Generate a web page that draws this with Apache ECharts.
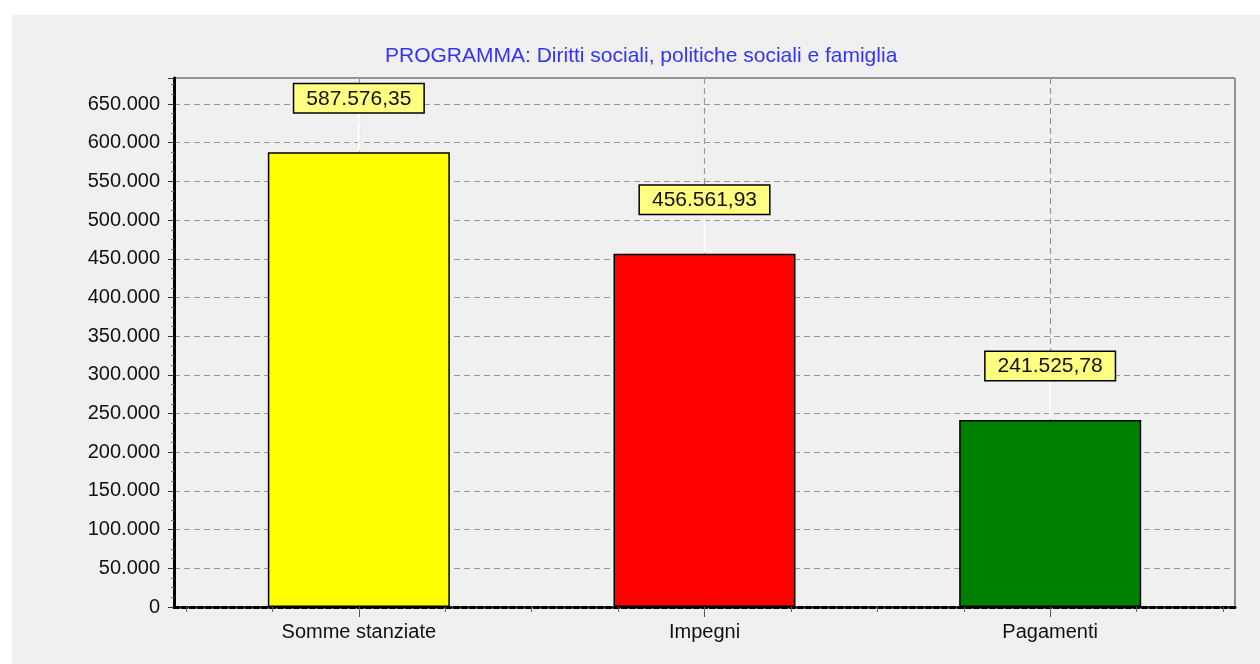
<!DOCTYPE html>
<html><head><meta charset="utf-8">
<script src="https://cdn.jsdelivr.net/npm/echarts@6/dist/echarts.min.js"></script>
<style>
html,body{margin:0;padding:0;background:#fff;overflow:hidden;}
#panel{position:absolute;left:12px;top:15px;width:1248px;height:649px;background:#f0f0f0;}
#chart{position:absolute;left:0;top:0;width:1260px;height:664px;}
</style></head><body>
<div id="panel"></div><div id="chart"></div>
<script>
const titleText = 'PROGRAMMA: Diritti sociali, politiche sociali e famiglia';
const categories = ['Somme stanziate', 'Impegni', 'Pagamenti'];
const values = [587576.35, 456561.93, 241525.78];
const barColors = ['#ffff00', '#ff0000', '#008000'];
const yMin = 0;
const yMax = 683600;
const yInterval = 50000;

function fmtIt(v, dec) {
  const neg = v < 0; v = Math.abs(v);
  const s = v.toFixed(dec);
  let parts = s.split('.');
  let int = parts[0].replace(/\B(?=(\d{3})+(?!\d))/g, '.');
  return (neg ? '-' : '') + int + (parts[1] ? ',' + parts[1] : '');
}

const FONT = "'Liberation Sans', Arial, sans-serif";
const dashed = { color: '#999', width: 1.2, type: [6, 4] };

const chart = echarts.init(document.getElementById('chart'), null, { renderer: 'canvas' });
chart.setOption({
  backgroundColor: 'transparent',
  animation: false,
  textStyle: { fontFamily: FONT },
  title: {
    text: titleText, left: 380, top: 41,
    textStyle: { color: '#3333ff', fontSize: 21, fontWeight: 'normal', fontFamily: FONT }
  },
  grid: [
    { left: 186, right: 37, top: 78, bottom: 57 },
    { left: 174, right: 25, top: 78, bottom: 57, show: true, borderColor: '#333', borderWidth: 1, backgroundColor: 'transparent' }
  ],
  xAxis: [
    {
      type: 'category', gridIndex: 0, data: categories, position: 'bottom',
      axisLine: { show: false },
      axisTick: { show: true, alignWithLabel: true, length: 10, lineStyle: { color: '#555' } },
      axisLabel: { margin: 15, fontSize: 20, color: '#111', fontFamily: FONT },
      splitLine: { show: true, alignWithLabel: true, lineStyle: dashed }
    },
    {
      type: 'value', gridIndex: 0, min: 0, max: 12, interval: 1, position: 'bottom',
      axisLine: { show: false },
      axisTick: { show: true, length: 5, lineStyle: { color: '#666' } },
      axisLabel: { show: false }, splitLine: { show: false }
    },
    {
      type: 'value', gridIndex: 1, min: 0, max: 1, offset: 1, position: 'bottom',
      axisLine: { show: true, lineStyle: { color: '#000', width: 3, type: [5, 3] } },
      axisTick: { show: false }, axisLabel: { show: false }, splitLine: { show: false }
    }
  ],
  yAxis: [
    { type: 'value', gridIndex: 0, min: yMin, max: yMax, show: false, splitLine: { show: false } },
    {
      type: 'value', gridIndex: 1, min: yMin, max: yMax, interval: yInterval, offset: 1, position: 'left',
      axisLine: { show: true, lineStyle: { color: '#000', width: 3 } },
      axisTick: { show: true, length: 6, lineStyle: { color: '#333' } },
      minorTick: { show: true, splitNumber: 4, length: 3, lineStyle: { color: '#777' } },
      axisLabel: { formatter: v => fmtIt(v, 0), fontSize: 20, margin: 13, color: '#111', showMaxLabel: false, fontFamily: FONT },
      splitLine: { show: true, lineStyle: dashed }
    }
  ],
  series: [
    {
      type: 'bar', xAxisIndex: 0, yAxisIndex: 0, barWidth: 182,
      data: values.map((v, i) => ({ value: v, itemStyle: { color: barColors[i] } })),
      itemStyle: { borderColor: '#000', borderWidth: 1.5 },
      label: {
        show: true, position: 'top', distance: 40,
        formatter: p => fmtIt(p.value, 2),
        backgroundColor: '#ffff80', borderColor: '#000', borderWidth: 1.5,
        padding: [4, 12, 3, 12], fontSize: 21, color: '#111', fontFamily: FONT
      }
    },
    {
      type: 'custom', xAxisIndex: 0, yAxisIndex: 0, silent: true,
      data: values.map((v, i) => [i, v]),
      renderItem: (params, api) => {
        const p = api.coord([api.value(0), api.value(1)]);
        return { type: 'line', shape: { x1: p[0], y1: p[1] - 1, x2: p[0], y2: p[1] - 40 }, style: { stroke: '#fff', lineWidth: 2 } };
      }
    }
  ]
});
</script></body></html>
